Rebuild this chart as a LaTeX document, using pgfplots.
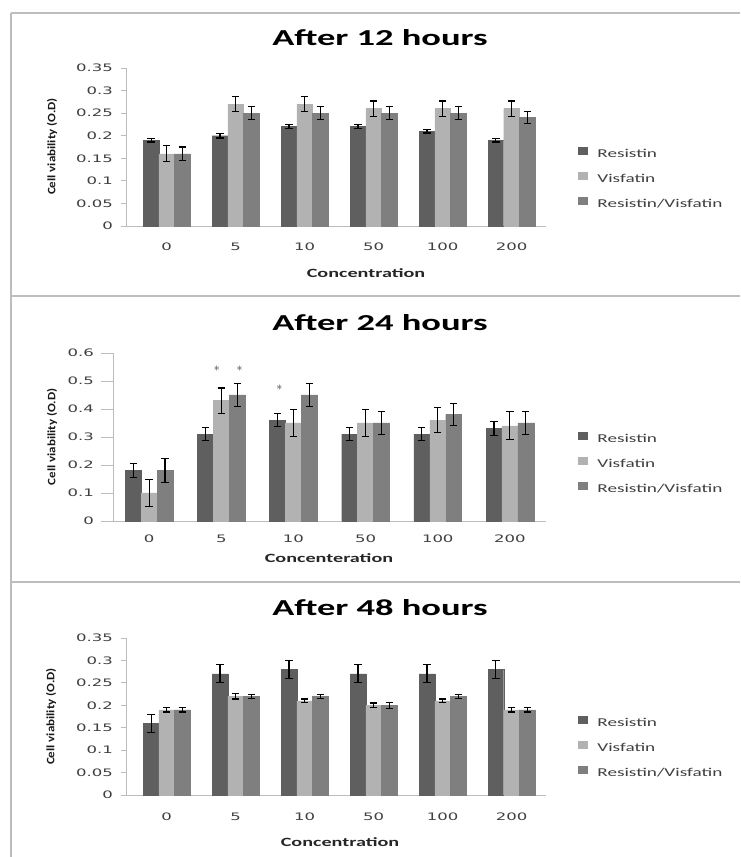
\documentclass[border=0pt]{standalone}
\usepackage{fontspec}
\setmainfont{Carlito}
\newfontfamily\widefont{Carlito}[FakeStretch=1.6]
\newfontfamily\ylabfont{Carlito}[FakeStretch=1.15]
\newfontfamily\tickfont{DejaVu Sans}[FakeStretch=1.6]
\usepackage{pgfplots}
\pgfplotsset{compat=1.18}
\definecolor{cRes}{HTML}{5F5F5F}
\definecolor{cVis}{HTML}{B2B2B2}
\definecolor{cRV}{HTML}{7F7F7F}
\definecolor{axgray}{HTML}{BCBCBC}
\definecolor{framegray}{HTML}{BDBDBD}
\definecolor{txt}{HTML}{404040}

\pgfplotsset{
  panel/.style={
    scale only axis, ybar, bar width=15.6pt,
    axis lines*=left,
    axis line style={draw=axgray, line width=0.8pt},
    ymin=0, xmin=-0.584, xmax=5.5,
    xtick={0,1,2,3,4,5}, xticklabels={0,5,10,50,100,200},
    xtick style={draw=none},
    ytick style={draw=axgray, line width=0.8pt},
    tick align=outside, major tick length=5pt,
    /pgf/number format/assume math mode=true,
    xticklabel style={font=\tickfont\fontsize{10.3}{12}\selectfont, text=txt, anchor=base, inner sep=0pt},
    yticklabel style={font=\tickfont\fontsize{10.3}{12}\selectfont, text=txt, anchor=east, inner sep=0pt},
    legend style={draw=none, fill=none, inner sep=0pt, outer sep=0pt, anchor=north west,
      font=\widefont\fontsize{12}{14}\selectfont, text=txt, row sep=11.5pt,
      nodes={inner sep=0pt, text height=9pt, text depth=3pt}},
    legend cell align=left,
    legend image code/.code={\fill[##1] (0pt,0.4pt) rectangle (9pt,7.4pt); \path (19pt,0pt);},
    clip=false,
  },
  errs/.style={error bars/.cd, y dir=both, y explicit,
    error bar style={line width=1.1pt, draw=black},
    error mark options={draw=black, line width=1.1pt, mark size=3.6pt, rotate=90}},
}

\begin{document}
\begin{tikzpicture}
\useasboundingbox (0pt,0pt) rectangle (740pt,857pt);
\fill[white] (0pt,0pt) rectangle (740pt,857pt);
% panel frames
\draw[framegray, line width=1.5pt] (11pt,844pt) -- (11pt,0pt);
\draw[framegray, line width=1.2pt] (11pt,844pt) -- (740pt,844pt);
\draw[framegray, line width=1.5pt] (11pt,561pt) -- (740pt,561pt);
\draw[framegray, line width=1.5pt] (11pt,275pt) -- (740pt,275pt);

% ---------------- Panel 1: 12 hours
\begin{axis}[panel, at={(126.4pt,631pt)}, anchor=south west,
  width=419.6pt, height=158pt, ymax=0.35,
  ytick={0,0.05,0.1,0.15,0.2,0.25,0.3,0.35},
  yticklabels={0,0.05,0.1,0.15,0.2,0.25,0.3,0.35},
  xticklabel style={yshift=-19.7pt}, yticklabel style={xshift=-8.4pt},
  legend style={at={(1.0763,0.5)}}]
\addplot[fill=cRes, draw=cRes, bar shift=-15.6pt, errs] coordinates {
 (0,0.19) +- (0,0.004) (1,0.20) +- (0,0.005) (2,0.22) +- (0,0.004)
 (3,0.22) +- (0,0.004) (4,0.21) +- (0,0.004) (5,0.19) +- (0,0.004)};
\addplot[fill=cVis, draw=cVis, bar shift=0pt, errs] coordinates {
 (0,0.16) +- (0,0.018) (1,0.27) +- (0,0.017) (2,0.27) +- (0,0.017)
 (3,0.26) +- (0,0.017) (4,0.26) +- (0,0.017) (5,0.26) +- (0,0.017)};
\addplot[fill=cRV, draw=cRV, bar shift=15.6pt, errs] coordinates {
 (0,0.16) +- (0,0.015) (1,0.25) +- (0,0.015) (2,0.25) +- (0,0.015)
 (3,0.25) +- (0,0.015) (4,0.25) +- (0,0.015) (5,0.24) +- (0,0.013)};
\legend{Resistin,Visfatin,Resistin/Visfatin}
\end{axis}
\node[anchor=base, font=\widefont\bfseries\fontsize{22.8}{26}\selectfont] at (380pt,811.3pt) {After 12 hours};
\node[anchor=base, font=\widefont\bfseries\fontsize{12.6}{14}\selectfont, text=black!85] at (366pt,579.7pt) {Concentration};
\node[rotate=90, font=\ylabfont\bfseries\fontsize{11.3}{13}\selectfont, text=black!90] at (52pt,710.5pt) {Cell viability (O.D)};

% ---------------- Panel 2: 24 hours
\begin{axis}[panel, at={(113pt,336pt)}, anchor=south west,
  width=433pt, height=168pt, ymax=0.6, xmin=-0.5, bar width=15.9pt,
  major tick length=12pt,
  ytick={0,0.1,0.2,0.3,0.4,0.5,0.6},
  yticklabels={0,0.1,0.2,0.3,0.4,0.5,0.6},
  xticklabel style={yshift=-9.3pt}, yticklabel style={xshift=-7pt},
  legend style={at={(1.0739,0.5315)}}]
\addplot[fill=cRes, draw=cRes, bar shift=-15.9pt, errs] coordinates {
 (0,0.18) +- (0,0.024) (1,0.31) +- (0,0.024) (2,0.36) +- (0,0.024)
 (3,0.31) +- (0,0.024) (4,0.31) +- (0,0.024) (5,0.33) +- (0,0.025)};
\addplot[fill=cVis, draw=cVis, bar shift=0pt, errs] coordinates {
 (0,0.10) +- (0,0.047) (1,0.43) +- (0,0.045) (2,0.35) +- (0,0.048)
 (3,0.35) +- (0,0.048) (4,0.36) +- (0,0.045) (5,0.34) +- (0,0.05)};
\addplot[fill=cRV, draw=cRV, bar shift=15.9pt, errs] coordinates {
 (0,0.18) +- (0,0.043) (1,0.45) +- (0,0.04) (2,0.45) +- (0,0.04)
 (3,0.35) +- (0,0.04) (4,0.38) +- (0,0.04) (5,0.35) +- (0,0.04)};
\legend{Resistin,Visfatin,Resistin/Visfatin}
\node[font=\fontsize{13}{13}\selectfont, text=black!80] at (axis cs:0.94,0.545) {$\ast$};
\node[font=\fontsize{13}{13}\selectfont, text=black!80] at (axis cs:1.256,0.545) {$\ast$};
\node[font=\fontsize{13}{13}\selectfont, text=black!80] at (axis cs:1.806,0.476) {$\ast$};
\end{axis}
\node[anchor=base, font=\widefont\bfseries\fontsize{22.8}{26}\selectfont] at (380pt,526.3pt) {After 24 hours};
\node[anchor=base, font=\widefont\bfseries\fontsize{12.6}{14}\selectfont, text=black!85] at (329pt,294.3pt) {Concenteration};
\node[rotate=90, font=\ylabfont\bfseries\fontsize{11.3}{13}\selectfont, text=black!90] at (52pt,420pt) {Cell viability (O.D)};

% ---------------- Panel 3: 48 hours
\begin{axis}[panel, at={(126.4pt,62pt)}, anchor=south west,
  width=419.6pt, height=157pt, ymax=0.35,
  ytick={0,0.05,0.1,0.15,0.2,0.25,0.3,0.35},
  yticklabels={0,0.05,0.1,0.15,0.2,0.25,0.3,0.35},
  xticklabel style={yshift=-20.7pt}, yticklabel style={xshift=-8.4pt},
  legend style={at={(1.0763,0.503)}}]
\addplot[fill=cRes, draw=cRes, bar shift=-15.6pt, errs] coordinates {
 (0,0.16) +- (0,0.02) (1,0.27) +- (0,0.02) (2,0.28) +- (0,0.02)
 (3,0.27) +- (0,0.02) (4,0.27) +- (0,0.02) (5,0.28) +- (0,0.02)};
\addplot[fill=cVis, draw=cVis, bar shift=0pt, errs] coordinates {
 (0,0.19) +- (0,0.005) (1,0.22) +- (0,0.006) (2,0.21) +- (0,0.004)
 (3,0.20) +- (0,0.005) (4,0.21) +- (0,0.004) (5,0.19) +- (0,0.005)};
\addplot[fill=cRV, draw=cRV, bar shift=15.6pt, errs] coordinates {
 (0,0.19) +- (0,0.005) (1,0.22) +- (0,0.005) (2,0.22) +- (0,0.005)
 (3,0.20) +- (0,0.007) (4,0.22) +- (0,0.005) (5,0.19) +- (0,0.005)};
\legend{Resistin,Visfatin,Resistin/Visfatin}
\end{axis}
\node[anchor=base, font=\widefont\bfseries\fontsize{22.8}{26}\selectfont] at (380pt,241.3pt) {After 48 hours};
\node[anchor=base, font=\widefont\bfseries\fontsize{12.6}{14}\selectfont, text=black!85] at (340pt,10.3pt) {Concentration};
\node[rotate=90, font=\ylabfont\bfseries\fontsize{11.3}{13}\selectfont, text=black!90] at (51pt,140.5pt) {Cell viability (O.D)};
\end{tikzpicture}
\end{document}
